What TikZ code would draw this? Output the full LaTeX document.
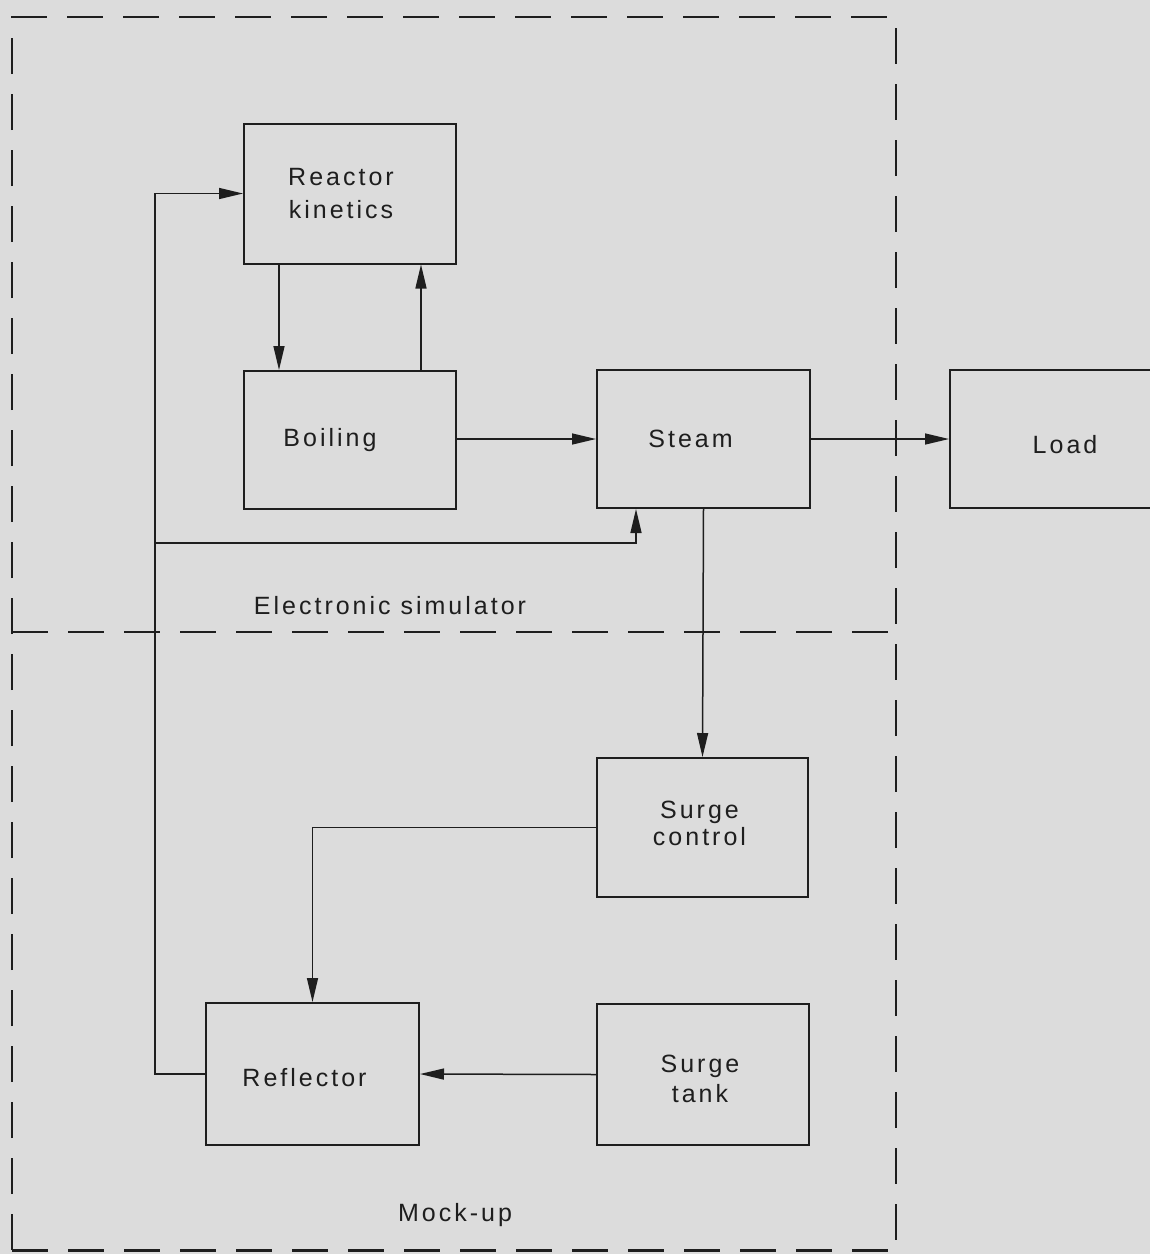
\documentclass[tikz,border=0pt]{standalone}
\usepackage{fontspec}
\setmainfont{Liberation Sans}[LetterSpace=12]
\usetikzlibrary{arrows.meta}
\definecolor{bg}{HTML}{DCDCDC}
\definecolor{ink}{HTML}{1E1E1E}
\tikzset{
  blk/.style={draw=ink, line width=2pt, rectangle, minimum width=212pt, minimum height=140pt, inner sep=0pt},
  arr/.style={draw=ink, line width=1.5pt, -{Triangle[length=24pt,width=11pt]}},
  frame/.style={draw=ink, line width=1.7pt, dash pattern=on 36pt off 20pt},
  lbl/.style={font=\fontsize{25}{30}\selectfont, text=ink, inner sep=0pt, align=center}
}
\begin{document}
\begin{tikzpicture}[x=1pt,y=-1pt]
\fill[bg] (0,0) rectangle (1150,1254);
\useasboundingbox (0,0) rectangle (1150,1254);
% frame
\coordinate (ftl) at (12,17);
\coordinate (ftr) at (896,17);
\coordinate (fml) at (12,632);
\coordinate (fmr) at (896,632);
\coordinate (fbl) at (12,1250);
\coordinate (fbr) at (896,1250);
\draw[frame] (fbl) -- (ftl) -- (ftr) -- (fbr);
\draw[frame] (fml) -- (fmr);
\draw[frame, line width=3pt] (fbl) -- (fbr);
% blocks
\node[blk] (rk) at (350,193.5) {};
\node[blk, minimum height=138pt] (boil) at (350,440) {};
\node[blk, minimum width=213pt, minimum height=138pt] (steam) at (703.5,439) {};
\node[blk, minimum width=216pt, minimum height=138pt, anchor=west] (load) at (949,439) {};
\node[blk, minimum width=211pt, minimum height=139pt] (sc) at (702.5,827.5) {};
\node[blk, minimum width=213pt, minimum height=142pt] (refl) at (312.5,1074) {};
\node[blk, minimum height=141pt] (st) at (703,1074.5) {};
% block texts
\node[lbl, font=\fontsize{25}{33}\selectfont] (rktxt) at ([xshift=-9pt]rk.center) {Reactor\\kinetics};
\node[lbl] (boiltxt) at ([xshift=-20pt]boil.center) {Boiling};
\node[lbl] (steamtxt) at ([xshift=-13pt]steam.center) {Steam};
\node[lbl] (loadtxt) at (1065,445) {Load};
\node[lbl, font=\fontsize{25}{27}\selectfont] (sctxt) at ([xshift=-3pt,yshift=4pt]sc.center) {Surge\\control};
\node[lbl] (refltxt) at ([xshift=-8pt,yshift=-4pt]refl.center) {Reflector};
\node[lbl] (sttxt) at ([xshift=-3pt,yshift=-4pt]st.center) {Surge\\tank};
% region labels
\node[lbl] (es) at (390,606) {Electronic simulator};
\node[lbl] (mu) at (455,1215) {Mock-up};
% connectors
\draw[arr] ([xshift=-71pt]rk.south) -- ([xshift=-71pt]boil.north);
\draw[arr] ([xshift=71pt]boil.north) -- ([xshift=71pt]rk.south);
\draw[arr] (boil.east |- steam.west) -- (steam.west);
\draw[arr] (steam.east) -- (load.west);
\draw[arr] (steam.south) -- (sc.north);
\coordinate (fb) at (155,543);
\draw[arr] (refl.west) -- (refl.west -| fb) |- (rk.west);
\draw[arr] (fb) -| ([xshift=-67.5pt]steam.south);
\draw[arr] (sc.west) -| (refl.north);
\draw[arr] (st.west) -- (refl.east);
\end{tikzpicture}
\end{document}
